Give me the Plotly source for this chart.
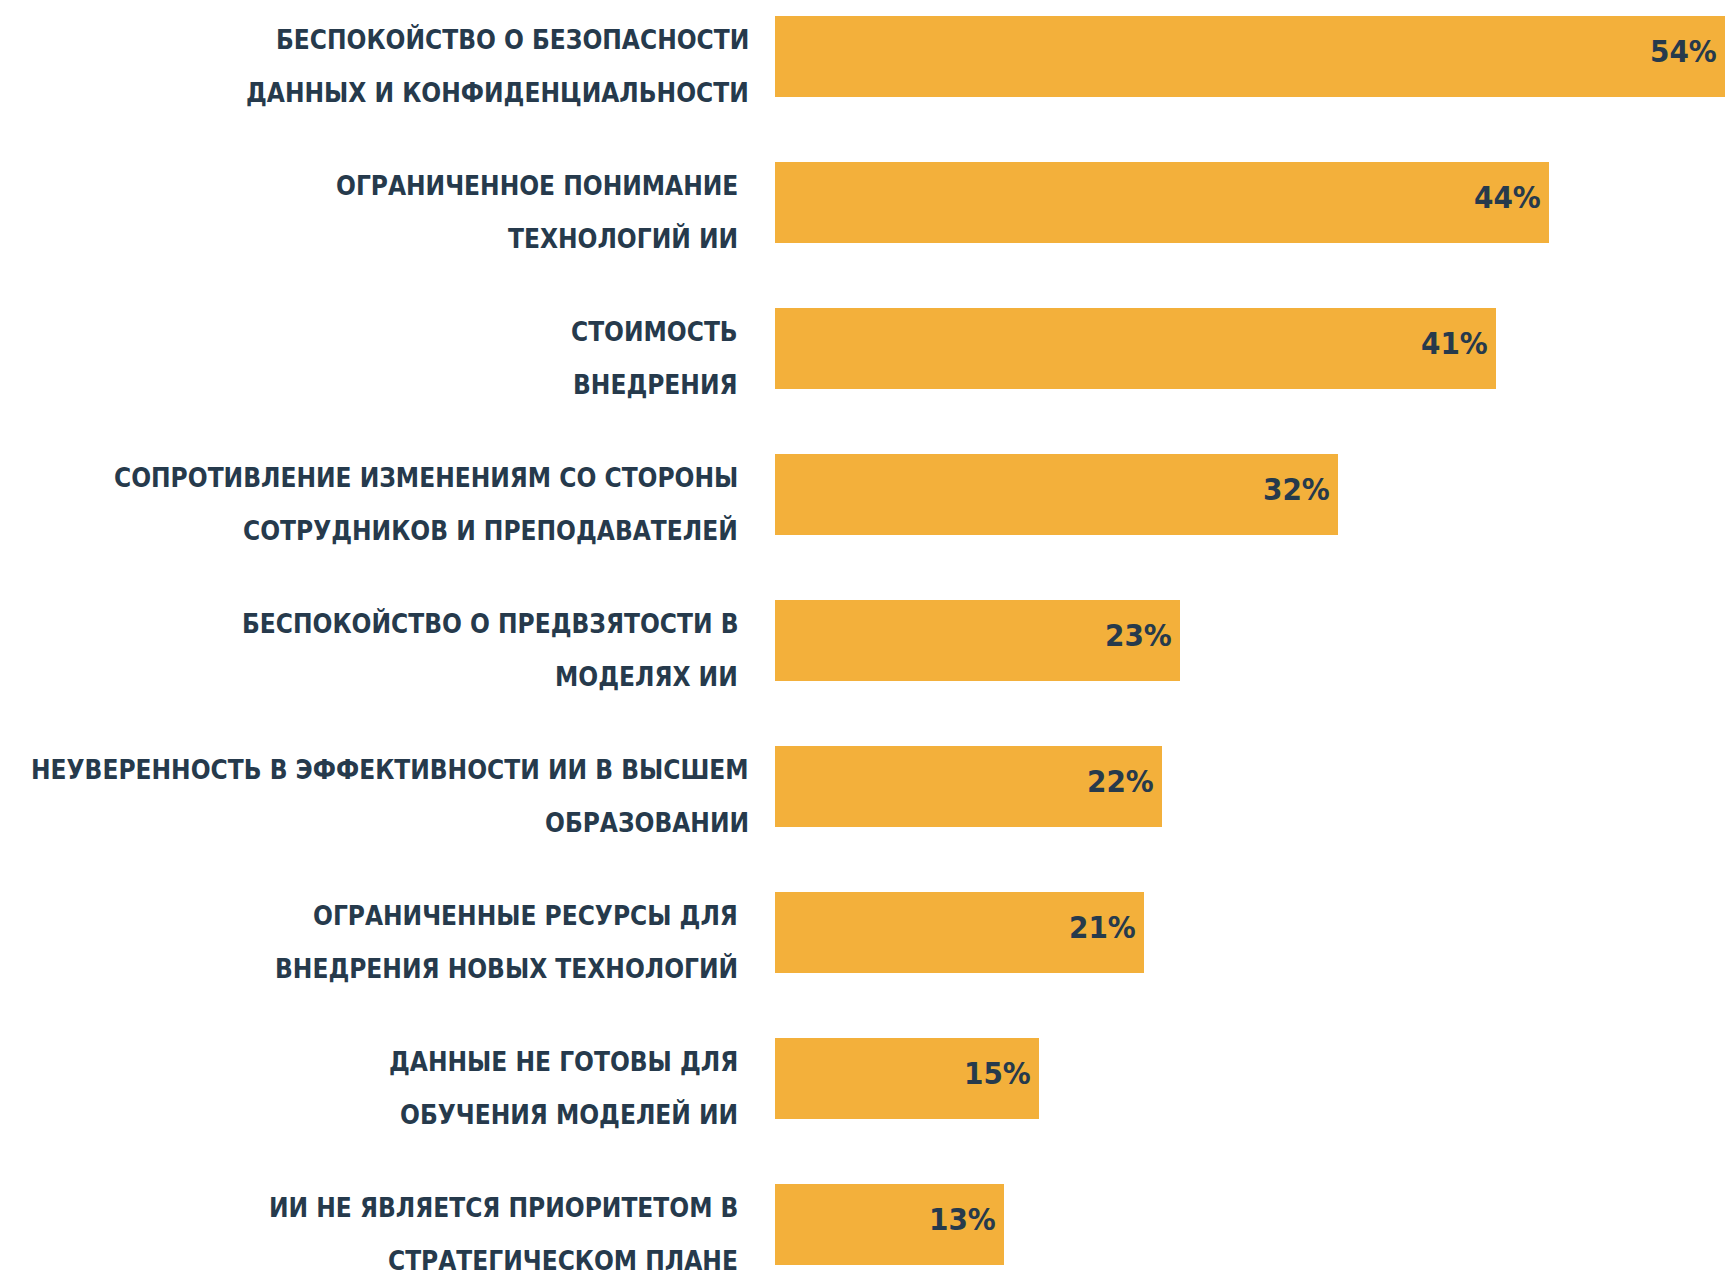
import plotly.graph_objects as go

categories = [
    "БЕСПОКОЙСТВО О БЕЗОПАСНОСТИ<br>ДАННЫХ И КОНФИДЕНЦИАЛЬНОСТИ",
    "ОГРАНИЧЕННОЕ ПОНИМАНИЕ<br>ТЕХНОЛОГИЙ ИИ",
    "СТОИМОСТЬ<br>ВНЕДРЕНИЯ",
    "СОПРОТИВЛЕНИЕ ИЗМЕНЕНИЯМ СО СТОРОНЫ<br>СОТРУДНИКОВ И ПРЕПОДАВАТЕЛЕЙ",
    "БЕСПОКОЙСТВО О ПРЕДВЗЯТОСТИ В<br>МОДЕЛЯХ ИИ",
    "НЕУВЕРЕННОСТЬ В ЭФФЕКТИВНОСТИ ИИ В ВЫСШЕМ<br>ОБРАЗОВАНИИ",
    "ОГРАНИЧЕННЫЕ РЕСУРСЫ ДЛЯ<br>ВНЕДРЕНИЯ НОВЫХ ТЕХНОЛОГИЙ",
    "ДАННЫЕ НЕ ГОТОВЫ ДЛЯ<br>ОБУЧЕНИЯ МОДЕЛЕЙ ИИ",
    "ИИ НЕ ЯВЛЯЕТСЯ ПРИОРИТЕТОМ В<br>СТРАТЕГИЧЕСКОМ ПЛАНЕ",
]
values = [54, 44, 41, 32, 23, 22, 21, 15, 13]
value_labels = ["54%", "44%", "41%", "32%", "23%", "22%", "21%", "15%", "13%"]

# styling
BAR_COLOR = "#F3B03B"
TEXT_COLOR = "#263A4C"
FONT = "DejaVu Sans Condensed, DejaVu Sans, sans-serif"
label_xshift = [-24, -35, -35, -35, -35, -24, -35, -35, -35]

W, H = 1725, 1276
LEFT = 775

fig = go.Figure()
fig.add_trace(go.Bar(
    x=values,
    y=list(range(len(values))),
    orientation="h",
    marker=dict(color=BAR_COLOR, line=dict(width=0)),
    width=0.555,
    hoverinfo="skip",
))

for i, (v, lab) in enumerate(zip(values, value_labels)):
    fig.add_annotation(
        x=v, xref="x", y=i, yref="y",
        text=lab, showarrow=False,
        xanchor="right", yanchor="middle",
        xshift=-6, yshift=6,
        font=dict(family=FONT, size=31, color=TEXT_COLOR, weight="bold"),
    )

for i, cat in enumerate(categories):
    lines = cat.split("<br>")
    shifts = [17, -36]
    for line, ys in zip(lines, shifts):
        fig.add_annotation(
            x=0, xref="paper", y=i, yref="y",
            text=line, showarrow=False,
            xanchor="right", yanchor="middle", align="right",
            xshift=label_xshift[i], yshift=ys,
            font=dict(family=FONT, size=26, color=TEXT_COLOR, weight="bold"),
        )

pitch = 146.0
c0 = 56.5
fig.update_layout(
    width=W, height=H,
    margin=dict(l=LEFT, r=0, t=0, b=0, pad=0),
    paper_bgcolor="white", plot_bgcolor="white",
    showlegend=False,
    hovermode=False,
    bargap=0,
    xaxis=dict(range=[0, 54], visible=False, fixedrange=True),
    yaxis=dict(range=[(H - c0) / pitch, -c0 / pitch], visible=False, fixedrange=True),
)

fig.write_html(
    "out.html",
    config={"displayModeBar": False, "staticPlot": True},
    post_script="document.body.style.margin='0';document.body.style.overflow='hidden';",
)
